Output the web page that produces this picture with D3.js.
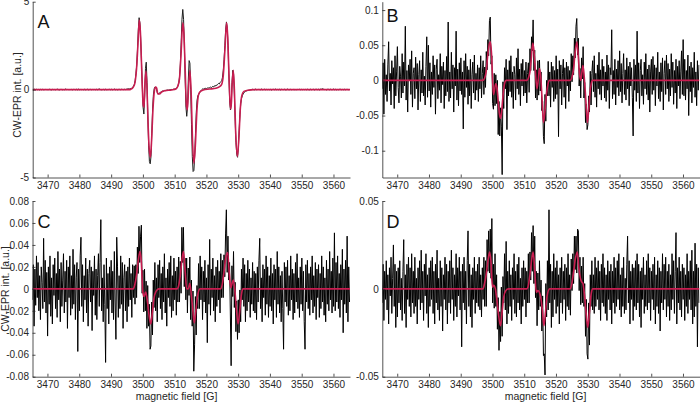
<!DOCTYPE html>
<html><head><meta charset="utf-8">
<script src="https://cdn.jsdelivr.net/npm/d3@7"></script>
<style>
body{margin:0;background:#fff}
svg{display:block}
text{font-family:"Liberation Sans",Arial,Helvetica,sans-serif;fill:#262626}
</style>
</head><body>
<svg id="chart" width="700" height="403"></svg>
<script>
// ---------------- DATA ----------------
// sampling grid of the measured spectra (magnetic field, G)
const fieldStart = 3465.3;
const fieldStep = 0.25;
const fieldDomain = [3465.3, 3565.2];
const xTicks = [3470, 3480, 3490, 3500, 3510, 3520, 3530, 3540, 3550, 3560];
const xTickLabels = ["3470","3480","3490","3500","3510","3520","3530","3540","3550","3560"];

// panel letters & axis titles
const panelLetters = ["A","B","C","D"];
const yTitle = "CW-EPR int. [a.u.]";
const xTitle = "magnetic field [G]";

// y axes
const yDomainA = [-5, 5];
const yTicksA = [-5, 0, 5];
const yTickLabelsA = ["-5","0","5"];
const yDomainB = [-0.1381, 0.1119];
const yTicksB = [-0.1, -0.05, 0, 0.05, 0.1];
const yTickLabelsB = ["-0.1","-0.05","0","0.05","0.1"];
const yDomainC = [-0.08, 0.08];
const yTicksC = [-0.08, -0.06, -0.04, -0.02, 0, 0.02, 0.04, 0.06, 0.08];
const yTickLabelsC = ["-0.08","-0.06","-0.04","-0.02","0","0.02","0.04","0.06","0.08"];
const yDomainD = [-0.05, 0.05];
const yTicksD = [-0.05, 0, 0.05];
const yTickLabelsD = ["-0.05","0","0.05"];

// measured spectra (A in 0.01 a.u., B-D in 0.001 a.u.), one value per grid step
const specA_centi = [
1,-2,2,0,-1,3,-2,1,0,-3,2,-1,1,2,-2,0,1,-1,3,-2,
0,2,-1,1,-3,2,0,-1,2,-2,1,3,-1,0,-2,1,2,-3,1,0,
-1,2,4,-2,1,0,-2,3,-1,1,-3,2,0,1,-1,2,-2,0,3,-1,
1,-2,2,0,-1,3,-3,1,0,2,-1,-2,2,1,-1,0,3,-2,1,-1,
2,0,-2,3,5,-1,1,-2,0,2,-3,1,2,-1,0,-2,3,1,-1,2,
0,-2,1,3,-1,0,2,-3,1,2,-1,0,2,1,-2,3,1,0,2,4,
3,5,4,6,7,
8,12,20,30,50,90,140,230,340,409,380,290,160,20,-100,-139,-40,120,156,40,-150,-320,-410,-422,-380,-250,-110,-30,5,15,12,0,-18,-25,-22,-18,
-15,-13,-9,-8,-8,-5,-6,-3,-4,-2,-3,-2,0,-1,1,0,2,3,3,5,
8,12,22,40,75,150,270,400,456,400,250,60,-100,-152,-100,60,165,150,0,-200,-380,-466,-460,-380,-250,-130,-60,-35,-28,-20,
-12,-5,0,4,3,6,5,8,6,9,10,8,12,14,11,16,18,15,22,20,26,24,30,35,32,40,45,50,
70,110,170,250,340,385,350,250,90,-60,-115,-80,40,110,90,-30,-180,-300,-370,-385,-330,-230,-140,-80,-50,-35,-25,
-18,-14,-10,-8,-6,-5,-4,-3,
-2,1,-1,2,0,-2,1,3,-1,0,2,-2,1,-1,3,0,-2,1,2,-1,
0,3,-2,1,-1,2,0,-3,1,2,-1,0,4,-2,1,0,-1,2,-2,1,
3,-1,0,2,-2,1,-1,3,0,-2,2,1,-1,0,2,-3,1,0,-1,2,
-1,1,3,-2,0,2,-1,1,-2,3,0,-1,2,1,-3,0,2,-1,1,0,
2,-2,1,3,-1,0,2,-2,1,4,2,5,3,-1,2,0,-2,1,3,0,
-1,2,0,-2,1,3,-1,2,0,-2,1,-1,2,0,3,-2,1,-1,0,2,
-1,1,0,2,-1,0
];
const specB_milli = [
-12,25,-48,30,-20,8,-30,22,55,-15,10,-35,28,-5,18,-40,35,-22,12,48,
-10,-32,20,5,-25,38,-18,26,-8,77,-28,14,-45,22,0,30,-20,42,-38,10,
18,-26,33,-12,24,-42,8,28,-30,15,-18,40,-22,6,-35,20,62,-24,50,-15,
25,-38,12,-20,35,-10,22,-48,16,30,-26,8,-14,38,-32,20,-6,26,-40,14,
-22,34,-16,83,-30,12,-25,40,-12,22,-45,18,-8,70,-28,16,-36,25,-15,32,
-20,12,-69,28,-24,38,-10,20,-34,15,-22,30,-40,8,26,-18,36,-28,10,-14,
22,-30,18,-12,35,-25,10,28,-20,19,-10,41,15,58,35,85,90,23,35,-33,
-41,10,-36,8,-33,0,-77,-30,-79,-39,-65,-134,-2,-40,18,-12,30,-70,15,-22,
28,-16,35,-24,12,-40,20,8,-28,32,-12,45,-20,16,-36,24,-8,30,-22,14,
-18,26,-32,10,25,-17,45,14,62,42,86,14,43,-25,15,-28,28,-21,29,-15,
12,-43,-30,-80,-90,-20,-58,0,-22,27,-22,12,-38,26,-10,20,-30,14,-26,35,
-20,16,-80,28,-12,22,-35,10,30,-24,18,-40,26,-8,20,-30,14,-15,38,-2,
35,8,60,32,77,88,36,60,-8,17,-25,32,2,48,-25,-3,-60,-34,-70,-63,
-22,-45,13,-35,10,28,-16,35,-24,10,-38,22,-12,40,-20,15,-28,30,-8,20,
-25,12,-30,36,-14,22,-40,18,8,72,-26,14,-20,30,-35,16,-10,28,-22,42,
-16,24,-32,10,38,-20,15,-28,32,-12,20,-36,26,-8,18,-24,-79,30,-14,22,
-30,70,-18,25,-40,14,30,-22,8,-34,26,-12,38,-20,16,-28,22,-45,12,30,
-20,34,-14,22,-36,18,-8,40,-26,12,-30,25,-16,32,-42,10,28,-20,36,-12,
24,-30,16,-22,38,-10,26,-34,14,-18,30,-40,20,-8,28,-26,12,42,-20,58,
-22,30,-28,14,-12,36,-50,20,-16,26,-32,18,-10,40,-24,12,-36,28,-14,22
];
const specC_milli = [
-10,22,-34,18,-15,30,-8,24,-20,12,-28,20,6,-18,46,-12,26,-22,15,-43,
20,-14,30,-25,10,-32,22,-6,28,-18,14,-26,34,-10,18,-30,24,-16,8,32,
-22,16,-12,26,-36,20,-8,30,-24,12,-18,36,-14,22,-28,10,24,-57,18,-20,
30,47,-16,22,-30,12,-10,28,-22,18,-34,14,26,-12,20,-38,16,-6,30,-24,
18,-28,12,32,-16,24,63,-20,10,-30,22,-14,-67,28,-18,14,-32,20,-10,26,
-22,16,-28,34,-12,-46,47,20,-26,12,-18,30,-14,24,-36,10,22,-20,16,-30,
20,-16,28,-10,14,-26,22,-8,21,-14,22,-8,38,14,57,24,48,58,-4,17,
-21,18,-20,7,-36,3,-34,-14,-55,-52,-12,-42,8,-17,24,-20,10,-30,22,-8,
26,-18,14,-28,20,-12,32,-22,10,-34,18,-8,24,-16,30,-26,12,-20,28,-10,
16,-24,20,-12,29,-12,25,-4,56,24,56,2,28,-10,28,-22,19,-6,29,-28,
8,-34,-2,-75,-51,-7,-42,3,-18,23,-18,30,-10,20,-28,16,-12,26,-22,10,
-49,22,-14,45,-24,18,-8,28,-20,12,-30,20,-16,26,-10,16,-22,32,-8,26,
-8,31,11,50,72,15,48,8,24,-22,-70,21,-7,34,-17,6,-39,-11,-46,-10,
-40,-1,-30,18,-10,28,-16,22,-30,14,-20,26,-12,18,-26,10,-14,24,-20,16,
-22,14,-28,20,-12,26,46,-18,10,-30,22,-8,18,-24,30,-14,20,-26,12,-16,
28,-20,14,-32,22,-10,18,-26,34,-14,20,-22,12,-30,16,-18,-55,24,-12,20,
-16,26,-24,12,-20,30,-10,18,-28,14,-22,24,-12,32,-18,10,-26,20,-14,28,
-20,16,-30,-55,22,-12,26,-18,14,-24,20,-10,30,-22,12,-16,24,-28,18,-8,
22,-26,14,-18,30,-12,20,-24,10,-30,26,-14,18,-20,34,-10,16,-22,28,-16,
51,-20,24,-12,30,-18,14,-26,22,-10,36,-40,18,-14,26,-22,48,-30,20,-12
];
const specD_milli = [
-8,14,-18,10,-6,16,-12,8,-20,12,-4,18,-14,6,25,-10,14,-22,10,-16,
12,-8,16,-12,6,-18,10,28,-14,8,-22,14,-6,18,-10,12,-16,20,-8,10,
-14,18,-10,6,-20,12,-6,16,-12,22,-8,10,-18,14,-4,20,-14,8,-22,12,
-10,16,-6,18,-14,10,-20,14,-8,22,-12,6,-18,16,-10,12,-24,8,-6,18,
-12,14,-20,10,-8,16,-14,22,-6,12,-18,8,-10,20,-16,12,-4,18,-12,10,
-33,14,-8,18,-12,10,-20,16,33,-10,14,-16,8,-22,12,-6,18,-14,10,-8,
14,-10,18,-12,8,-16,12,-6,18,-10,16,-10,28,10,33,9,34,6,40,-8,
14,-11,20,-10,8,-23,-5,-35,-13,-30,1,-27,7,-8,20,-12,27,-20,10,-14,
16,-10,8,-18,12,-6,20,-14,10,-16,14,-8,18,-12,6,-20,12,-10,16,-6,
12,-16,10,-8,20,-8,21,5,32,10,36,3,30,-5,10,-21,9,-12,16,-10,
5,-24,-4,-38,-37,-49,3,-16,16,-12,45,-8,14,-22,10,-16,20,-6,12,-14,
16,-10,8,-20,12,-8,18,-14,10,-6,14,-18,12,-10,20,-12,8,-15,17,-1,
20,3,30,11,30,9,34,33,-1,18,-9,13,-8,18,-10,3,-27,-6,-37,-40,
-8,-32,8,-10,16,-12,8,-14,18,-10,12,-6,16,-12,10,-18,14,-8,20,-10,
12,-14,8,-18,16,-6,10,-12,14,-20,10,-8,18,-14,12,-10,16,-6,20,-12,
8,-16,12,-10,18,-14,6,-12,14,30,-8,16,-20,10,-6,14,-18,12,-10,16,
-12,20,-8,14,-16,10,-22,12,-6,18,-14,8,-10,16,-12,20,-8,12,-18,10,
-6,14,-12,18,-20,8,-10,16,-14,12,-24,10,-8,20,-12,14,-6,18,-16,10,
-10,14,-18,8,-12,20,-6,16,-14,10,32,-20,12,-8,18,-12,10,-16,14,-6,
12,-18,8,-10,20,-14,10,-6,16,-12,22,-20,10,-16,26,-10,14,-33,12,-8
];

// simulated (fit) spectra: field positions (G) and values
const fitA_field = [3465.3,3496.0,3496.5,3497.0,3497.5,3498.0,3498.5,3498.85,3499.2,3499.5,3499.8,3500.1,3500.35,3500.6,3500.95,3501.3,3501.6,3502.0,3502.4,3502.8,3503.2,3503.6,3504.0,3504.3,3504.7,3505.2,3506.0,3507.0,3509.0,3510.5,3511.0,3511.5,3512.0,3512.55,3512.9,3513.3,3513.7,3514.0,3514.4,3514.8,3515.2,3515.6,3516.05,3516.5,3517.0,3517.5,3518.0,3519.0,3521.0,3523.0,3524.0,3524.8,3525.3,3525.8,3526.35,3526.7,3527.1,3527.5,3527.75,3528.1,3528.45,3528.8,3529.2,3529.75,3530.2,3530.7,3531.2,3531.8,3533.0,3535.0,3565.2];
const fitA_centi = [0,0,5,15,40,120,280,395,330,180,20,-90,-100,20,105,0,-180,-340,-385,-260,-100,-10,15,10,-25,-25,-12,-6,-2,5,20,60,200,380,320,120,-90,-115,20,110,-20,-280,-420,-320,-120,-30,-12,-2,3,8,15,30,80,220,380,300,80,-90,-110,30,110,0,-240,-380,-280,-100,-30,-10,-4,0,0];
const fitB_field = [3465.3,3497.0,3497.5,3498.0,3498.5,3499.0,3499.3,3499.7,3500.0,3500.3,3500.6,3501.0,3501.4,3501.8,3502.2,3502.6,3503.0,3503.4,3503.8,3504.3,3510.8,3511.3,3511.8,3512.2,3512.7,3513.1,3513.5,3514.0,3514.4,3514.8,3515.2,3515.6,3516.05,3516.5,3517.0,3517.5,3518.0,3524.5,3525.0,3525.5,3526.0,3526.6,3527.0,3527.4,3527.8,3528.2,3528.5,3528.9,3529.4,3529.9,3530.3,3530.7,3531.1,3531.5,3565.2];
const fitB_milli = [0,0,3,12,35,52,55,38,5,-20,-15,-5,-10,-30,-48,-54,-38,-18,-5,0,0,3,12,30,53,40,15,-12,0,17,5,-25,-60,-45,-20,-5,0,0,4,15,38,55,35,10,0,12,21,5,-28,-60,-42,-18,-5,0,0];
const fitCD_field = [3465.3,3497.0,3497.5,3498.0,3498.5,3499.1,3499.5,3500.0,3500.4,3500.9,3501.3,3501.8,3502.5,3503.0,3503.5,3504.2,3505.0,3510.8,3511.3,3511.8,3512.3,3512.8,3513.3,3513.8,3514.3,3514.8,3515.3,3515.7,3516.2,3516.7,3517.2,3518.0,3524.5,3525.0,3525.5,3526.1,3526.7,3527.2,3527.7,3528.1,3528.5,3529.0,3529.5,3530.0,3530.5,3531.0,3531.5,3565.2];
const fitC_milli = [0,0,4,12,24,34,26,-2,-7,-3,-8,-20,-32,-22,-9,-2,0,0,3,12,26,34,17,0,0,5,-6,-18,-31,-20,-7,0,0,4,14,28,33,15,1,5,8,-2,-20,-32,-20,-6,0,0];
const fitD_milli = [0,0,3,8,15,21,16,1,2,0,-5,-13,-21,-14,-5,-1,0,0,2,8,16,21,11,-2,-1,-2,-6,-12,-21,-13,-4,0,0,3,9,17,21,12,6,4,3,-4,-14,-22,-14,-4,0,0];

// ---------------- DRAWING ----------------
const svg = d3.select("#chart");
const panels = [
  {letter: panelLetters[0], spec: specA_centi, unit: 0.01, fitF: fitA_field, fitV: fitA_centi,
   yDom: yDomainA, yTicks: yTicksA, yLab: yTickLabelsA,
   box: {l: 32.7, r: 350, t: 1.7, b: 177.5}, letterPos: [37.5, 27.5], yTitlePos: [20.5, 95], xTitlePos: null,
   dataColor: "#1e1e1e", dataWidth: 1.0},
  {letter: panelLetters[1], spec: specB_milli, unit: 0.001, fitF: fitB_field, fitV: fitB_milli,
   yDom: yDomainB, yTicks: yTicksB, yLab: yTickLabelsB,
   box: {l: 382.3, r: 699.5, t: 1.7, b: 177.5}, letterPos: [386.5, 21.5], yTitlePos: null, xTitlePos: null,
   dataColor: "#000", dataWidth: 1.0},
  {letter: panelLetters[2], spec: specC_milli, unit: 0.001, fitF: fitCD_field, fitV: fitC_milli,
   yDom: yDomainC, yTicks: yTicksC, yLab: yTickLabelsC,
   box: {l: 32.5, r: 350, t: 201, b: 376.7}, letterPos: [37.5, 228], yTitlePos: [8.5, 289], xTitlePos: [176.5, 399.5],
   dataColor: "#000", dataWidth: 1.0},
  {letter: panelLetters[3], spec: specD_milli, unit: 0.001, fitF: fitCD_field, fitV: fitD_milli,
   yDom: yDomainD, yTicks: yTicksD, yLab: yTickLabelsD,
   box: {l: 382.3, r: 699.5, t: 201, b: 376.7}, letterPos: [386.5, 228], yTitlePos: null, xTitlePos: [545.5, 399.5],
   dataColor: "#000", dataWidth: 1.0}
];

const red = "#c81d50";
const axisColor = "#262626";

panels.forEach((p, k) => {
  const x = d3.scaleLinear().domain(fieldDomain).range([p.box.l, p.box.r]);
  const y = d3.scaleLinear().domain(p.yDom).range([p.box.b, p.box.t]);
  const g = svg.append("g");

  const clipId = "clip" + k;
  svg.append("clipPath").attr("id", clipId).append("rect")
    .attr("x", p.box.l).attr("y", p.box.t)
    .attr("width", p.box.r - p.box.l).attr("height", p.box.b - p.box.t);

  const measured = p.spec.map((v, i) => [fieldStart + i * fieldStep, v * p.unit]);
  const fit = p.fitF.map((f, i) => [f, p.fitV[i] * p.unit]);

  const plot = g.append("g").attr("clip-path", `url(#${clipId})`);
  plot.append("path")
    .attr("d", d3.line().x(d => x(d[0])).y(d => y(d[1]))(measured))
    .attr("fill", "none").attr("stroke", p.dataColor).attr("stroke-width", p.dataWidth)
    .attr("stroke-linejoin", "round");
  plot.append("path")
    .attr("d", d3.line().curve(d3.curveMonotoneX).x(d => x(d[0])).y(d => y(d[1]))(fit))
    .attr("fill", "none").attr("stroke", red).attr("stroke-width", 1.6)
    .attr("stroke-linejoin", "round");

  // axes
  const xAxis = d3.axisBottom(x).tickValues(xTicks).tickFormat((d, i) => xTickLabels[i])
    .tickSize(-3).tickSizeOuter(0).tickPadding(4.5);
  const ga = g.append("g").attr("transform", `translate(0,${p.box.b})`).call(xAxis);
  const yAxis = d3.axisLeft(y).tickValues(p.yTicks).tickFormat((d, i) => p.yLab[i])
    .tickSize(-3).tickSizeOuter(0).tickPadding(3.5);
  const gy = g.append("g").attr("transform", `translate(${p.box.l},0)`).call(yAxis);
  [ga, gy].forEach(s => {
    s.selectAll("path.domain").attr("stroke", axisColor).attr("stroke-width", 0.8);
    s.selectAll(".tick line").attr("stroke", axisColor).attr("stroke-width", 0.8);
    s.selectAll(".tick text").attr("fill", axisColor).style("font-size", "10px")
      .style("font-family", '"Liberation Sans",Arial,sans-serif');
  });

  // panel letter
  g.append("text").attr("x", p.letterPos[0]).attr("y", p.letterPos[1])
    .style("font-size", "18px").style("fill", "#111").text(p.letter);

  if (p.yTitlePos) {
    g.append("text")
      .attr("transform", `translate(${p.yTitlePos[0]},${p.yTitlePos[1]}) rotate(-90)`)
      .attr("text-anchor", "middle").style("font-size", "10.5px").text(yTitle);
  }
  if (p.xTitlePos) {
    g.append("text").attr("x", p.xTitlePos[0]).attr("y", p.xTitlePos[1])
      .attr("text-anchor", "middle").style("font-size", "10.5px").text(xTitle);
  }
});
</script>
</body></html>
